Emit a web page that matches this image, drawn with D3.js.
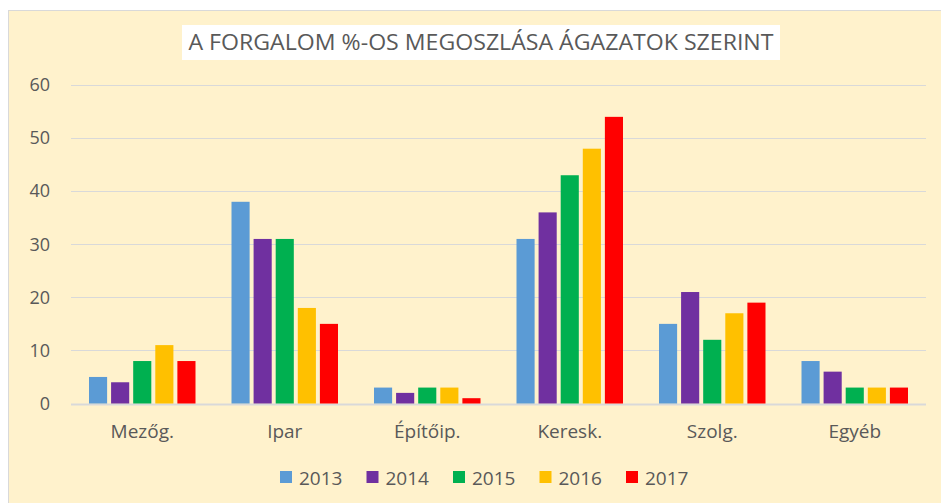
<!DOCTYPE html>
<html>
<head>
<meta charset="utf-8">
<script src="https://cdn.jsdelivr.net/npm/d3@7"></script>
<style>
  body { margin: 0; background: #ffffff; }
  text { font-family: "Open Sans", "Noto Sans", sans-serif; fill: #595959; }
</style>
</head>
<body>
<script>
// Chart data
var categories = ["Mezőg.", "Ipar", "Építőip.", "Keresk.", "Szolg.", "Egyéb"];
var years = ["2013", "2014", "2015", "2016", "2017"];
var values2013 = [5, 38, 3, 31, 15, 8];
var values2014 = [4, 31, 2, 36, 21, 6];
var values2015 = [8, 31, 3, 43, 12, 3];
var values2016 = [11, 18, 3, 48, 17, 3];
var values2017 = [8, 15, 1, 54, 19, 3];
var yTicks = [0, 10, 20, 30, 40, 50, 60];
var titleText = "A FORGALOM %-OS MEGOSZLÁSA ÁGAZATOK SZERINT";

var colors = ["#5b9bd5", "#7030a0", "#00b050", "#ffc000", "#ff0000"];
var seriesValues = [values2013, values2014, values2015, values2016, values2017];

// Build rows for drawing
var rows = categories.map(function (cat, i) {
  return {
    category: cat,
    values: years.map(function (y, j) {
      return { year: y, value: seriesValues[j][i] };
    })
  };
});

var svgWidth = 941;
var svgHeight = 503;

var margin = { top: 85, right: 15, bottom: 99.5, left: 71 };
var chartWidth = svgWidth - margin.left - margin.right;
var chartHeight = svgHeight - margin.top - margin.bottom;

var svg = d3.select("body")
  .append("svg")
  .attr("width", svgWidth)
  .attr("height", svgHeight);

// Chart background with thin border
svg.append("rect")
  .attr("x", 8.5)
  .attr("y", 10.5)
  .attr("width", svgWidth)
  .attr("height", svgHeight)
  .attr("fill", "#fff2cc")
  .attr("stroke", "#d9d9d9")
  .attr("stroke-width", 1);

// Title box
svg.append("rect")
  .attr("x", 182)
  .attr("y", 25)
  .attr("width", 598)
  .attr("height", 35)
  .attr("fill", "#ffffff");

svg.append("text")
  .attr("x", 481)
  .attr("y", 50)
  .attr("text-anchor", "middle")
  .attr("font-size", 21)
  .attr("textLength", 585)
  .attr("lengthAdjust", "spacingAndGlyphs")
  .text(titleText);

var chartGroup = svg.append("g")
  .attr("transform", "translate(" + margin.left + ", " + margin.top + ")");

var x0 = d3.scaleBand()
  .domain(categories)
  .range([0, chartWidth])
  .padding(0);

var x1 = d3.scaleBand()
  .domain(years)
  .range([18, x0.bandwidth() - 18])
  .paddingInner(0.18);

var yScale = d3.scaleLinear()
  .domain([0, 60])
  .range([chartHeight, 0]);

// Gridlines
chartGroup.append("g")
  .selectAll("line")
  .data(yTicks)
  .enter()
  .append("line")
  .attr("x1", 0)
  .attr("x2", chartWidth)
  .attr("y1", function (d) { return Math.round(yScale(d)) + 0.5; })
  .attr("y2", function (d) { return Math.round(yScale(d)) + 0.5; })
  .attr("stroke", "#d9d9d9")
  .attr("stroke-width", function (d) { return d === 0 ? 2 : 1; });

// Y axis labels
var leftAxis = d3.axisLeft(yScale).tickValues(yTicks).tickSize(0).tickPadding(21);
chartGroup.append("g")
  .call(leftAxis)
  .call(function (g) { g.select(".domain").remove(); })
  .selectAll("text")
  .attr("font-size", 18)
  .attr("font-family", null)
  .attr("fill", "#595959");

// Bars
var groups = chartGroup.selectAll(".group")
  .data(rows)
  .enter()
  .append("g")
  .attr("class", "group")
  .attr("transform", function (d) { return "translate(" + x0(d.category) + ",0)"; });

groups.selectAll("rect")
  .data(function (d) { return d.values; })
  .enter()
  .append("rect")
  .attr("x", function (d) { return x1(d.year); })
  .attr("width", x1.bandwidth())
  .attr("y", function (d) { return yScale(d.value); })
  .attr("height", function (d) { return yScale(0) - yScale(d.value); })
  .attr("fill", function (d, i) { return colors[i]; });

// Category axis
var bottomAxis = d3.axisBottom(x0).tickSize(0).tickPadding(21);
chartGroup.append("g")
  .attr("transform", "translate(0, " + chartHeight + ")")
  .call(bottomAxis)
  .call(function (g) { g.select(".domain").remove(); })
  .selectAll("text")
  .attr("font-size", 19)
  .attr("font-family", null)
  .attr("fill", "#595959");

// Legend
var legend = svg.append("g")
  .attr("transform", "translate(280, 471)");

var legendItems = legend.selectAll("g")
  .data(years)
  .enter()
  .append("g")
  .attr("transform", function (d, i) { return "translate(" + (i * 86.5) + ",0)"; });

legendItems.append("rect")
  .attr("width", 12)
  .attr("height", 12)
  .attr("fill", function (d, i) { return colors[i]; });

legendItems.append("text")
  .attr("x", 19)
  .attr("y", 14)
  .attr("font-size", 19)
  .text(function (d) { return d; });
</script>
</body>
</html>
